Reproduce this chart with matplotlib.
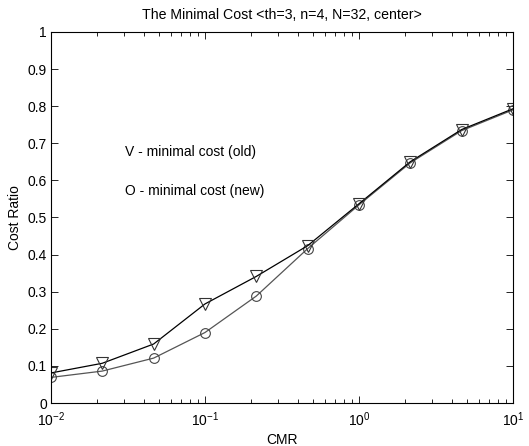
import numpy as np
import matplotlib.pyplot as plt
from matplotlib.ticker import FixedLocator, FixedFormatter

plt.rcParams['font.family'] = ['Liberation Sans', 'DejaVu Sans']
plt.rcParams['mathtext.fontset'] = 'custom'
plt.rcParams['mathtext.rm'] = 'Liberation Sans'
plt.rcParams['mathtext.it'] = 'Liberation Sans'
plt.rcParams['mathtext.bf'] = 'Liberation Sans:bold'
plt.rcParams['axes.unicode_minus'] = False

# CMR values (log spaced) and the two cost ratio series
cmr = [0.01, 0.0215, 0.0464, 0.1, 0.215, 0.464, 1.0, 2.15, 4.64, 10.0]
cost_old = [0.081, 0.107, 0.159, 0.267, 0.341, 0.424, 0.537, 0.650, 0.737, 0.793]
cost_new = [0.069, 0.086, 0.121, 0.190, 0.288, 0.416, 0.534, 0.647, 0.734, 0.790]

yticks = [0, 0.1, 0.2, 0.3, 0.4, 0.5, 0.6, 0.7, 0.8, 0.9, 1]
ylabels = ["0", "0.1", "0.2", "0.3", "0.4", "0.5", "0.6", "0.7", "0.8", "0.9", "1"]

fig = plt.figure(figsize=(5.29, 4.46), dpi=100)
ax = fig.add_axes([0.0964, 0.0964, 0.8734, 0.832])

ax.plot(cmr, cost_new, color="#555555", linewidth=0.9, marker="o",
        markersize=7, markerfacecolor="none", markeredgecolor="#444444",
        markeredgewidth=0.8)
ax.plot(cmr, cost_old, color="black", linewidth=0.9, marker="v",
        markersize=8, markerfacecolor="none", markeredgecolor="#333333",
        markeredgewidth=0.8)

ax.set_xscale("log")
ax.set_xlim(0.01, 10)
ax.set_ylim(0, 1)
ax.yaxis.set_major_locator(FixedLocator(yticks))
ax.yaxis.set_major_formatter(FixedFormatter(ylabels))

ax.tick_params(which="both", direction="in", top=True, right=True,
               labelsize=10, width=0.6)
ax.tick_params(which="major", length=5)
ax.tick_params(which="minor", length=3)
ax.tick_params(axis="x", pad=5)
ax.tick_params(axis="y", pad=3)
for s in ax.spines.values():
    s.set_linewidth(0.8)

ax.text(0.0302, 0.677, "V - minimal cost (old)", fontsize=10, va="center")
ax.text(0.0302, 0.571, "O - minimal cost (new)", fontsize=10, va="center")

ax.set_xlabel("CMR", fontsize=10, labelpad=3)
ax.set_ylabel("Cost Ratio", fontsize=10, labelpad=4)
ax.set_title("The Minimal Cost <th=3, n=4, N=32, center>", fontsize=10.2, pad=9)

fig.savefig("out.png", dpi=100)
